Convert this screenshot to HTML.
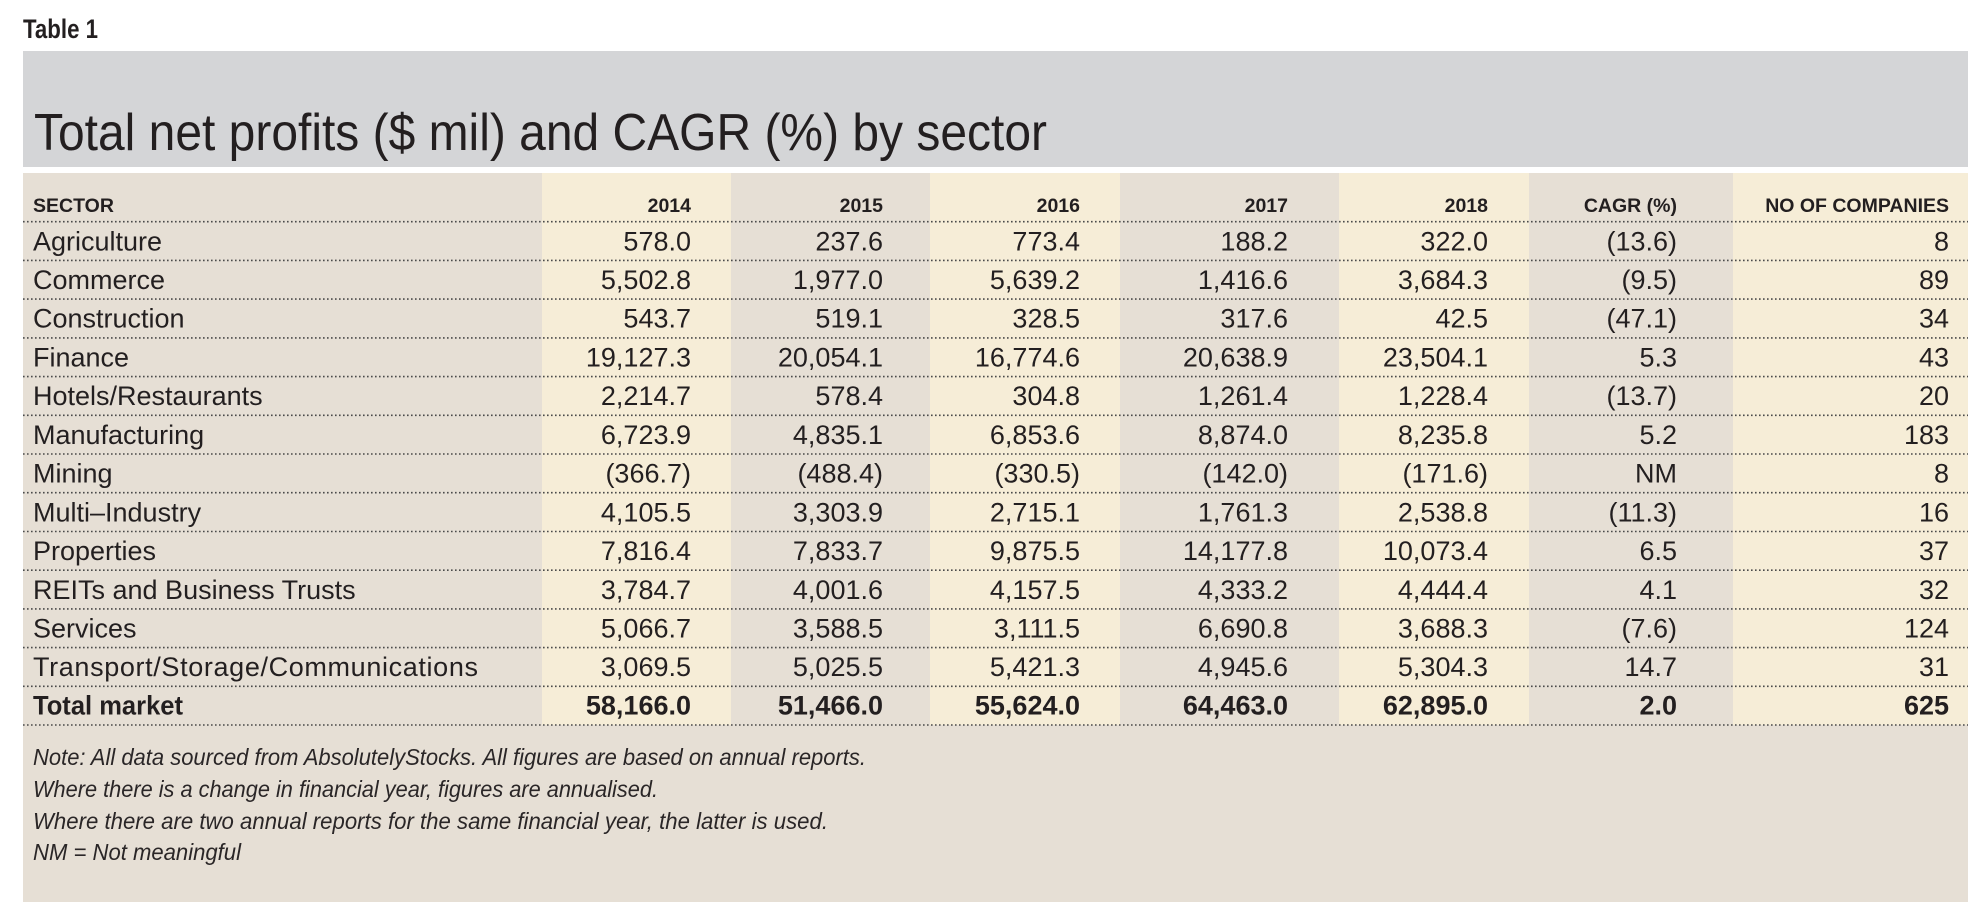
<!DOCTYPE html>
<html>
<head>
<meta charset="utf-8">
<style>
html,body{margin:0;padding:0;background:#fff;}
svg{display:block;}
text{font-family:"Liberation Sans",sans-serif;fill:#231f20;}
.h{font-weight:bold;font-size:19.5px;}
.r{font-size:27px;}
.n{font-size:27px;text-anchor:end;}
.b{font-weight:bold;}
.nt{font-size:23px;font-style:italic;fill:#2a2627;}
.e{text-anchor:end;}
</style>
</head>
<body>
<svg width="1986" height="922" viewBox="0 0 1986 922" xmlns="http://www.w3.org/2000/svg">
<rect x="0" y="0" width="1986" height="922" fill="#ffffff"/>
<text x="23" y="38" font-size="27" font-weight="bold" textLength="75" lengthAdjust="spacingAndGlyphs">Table 1</text>
<rect x="23" y="51" width="1945" height="116" fill="#d4d5d7"/>
<text x="34" y="150" font-size="52" textLength="1013" lengthAdjust="spacingAndGlyphs" fill="#231f20">Total net profits ($ mil) and CAGR (%) by sector</text>

<rect x="23" y="173" width="1945" height="729" fill="#e6dfd5"/>
<rect x="542" y="173" width="189" height="552" fill="#f6edd7"/>
<rect x="930" y="173" width="190" height="552" fill="#f6edd7"/>
<rect x="1339" y="173" width="190" height="552" fill="#f6edd7"/>
<rect x="1733" y="173" width="235" height="552" fill="#f6edd7"/>

<g stroke="#4a4a4a" stroke-width="1.6" stroke-dasharray="1.6 2.4">
<line x1="23" x2="1968" y1="221.7" y2="221.7"/>
<line x1="23" x2="1968" y1="260.4" y2="260.4"/>
<line x1="23" x2="1968" y1="299.1" y2="299.1"/>
<line x1="23" x2="1968" y1="337.9" y2="337.9"/>
<line x1="23" x2="1968" y1="376.6" y2="376.6"/>
<line x1="23" x2="1968" y1="415.3" y2="415.3"/>
<line x1="23" x2="1968" y1="454.0" y2="454.0"/>
<line x1="23" x2="1968" y1="492.7" y2="492.7"/>
<line x1="23" x2="1968" y1="531.5" y2="531.5"/>
<line x1="23" x2="1968" y1="570.2" y2="570.2"/>
<line x1="23" x2="1968" y1="608.9" y2="608.9"/>
<line x1="23" x2="1968" y1="647.6" y2="647.6"/>
<line x1="23" x2="1968" y1="686.3" y2="686.3"/>
<line x1="23" x2="1968" y1="725.0" y2="725.0"/>
</g>

<!-- header -->
<text class="h" x="33" y="212">SECTOR</text>
<text class="h e" x="691" y="212">2014</text>
<text class="h e" x="883" y="212">2015</text>
<text class="h e" x="1080" y="212">2016</text>
<text class="h e" x="1288" y="212">2017</text>
<text class="h e" x="1488" y="212">2018</text>
<text class="h e" x="1677" y="212">CAGR (%)</text>
<text class="h e" x="1949" y="212">NO OF COMPANIES</text>

<!-- rows -->
<g>
<text class="r" x="33" y="250.3">Agriculture</text>
<text class="n" x="691" y="250.3">578.0</text><text class="n" x="883" y="250.3">237.6</text><text class="n" x="1080" y="250.3">773.4</text><text class="n" x="1288" y="250.3">188.2</text><text class="n" x="1488" y="250.3">322.0</text><text class="n" x="1677" y="250.3">(13.6)</text><text class="n" x="1949" y="250.3">8</text>

<text class="r" x="33" y="289.0">Commerce</text>
<text class="n" x="691" y="289.0">5,502.8</text><text class="n" x="883" y="289.0">1,977.0</text><text class="n" x="1080" y="289.0">5,639.2</text><text class="n" x="1288" y="289.0">1,416.6</text><text class="n" x="1488" y="289.0">3,684.3</text><text class="n" x="1677" y="289.0">(9.5)</text><text class="n" x="1949" y="289.0">89</text>

<text class="r" x="33" y="327.7">Construction</text>
<text class="n" x="691" y="327.7">543.7</text><text class="n" x="883" y="327.7">519.1</text><text class="n" x="1080" y="327.7">328.5</text><text class="n" x="1288" y="327.7">317.6</text><text class="n" x="1488" y="327.7">42.5</text><text class="n" x="1677" y="327.7">(47.1)</text><text class="n" x="1949" y="327.7">34</text>

<text class="r" x="33" y="366.5">Finance</text>
<text class="n" x="691" y="366.5">19,127.3</text><text class="n" x="883" y="366.5">20,054.1</text><text class="n" x="1080" y="366.5">16,774.6</text><text class="n" x="1288" y="366.5">20,638.9</text><text class="n" x="1488" y="366.5">23,504.1</text><text class="n" x="1677" y="366.5">5.3</text><text class="n" x="1949" y="366.5">43</text>

<text class="r" x="33" y="405.2">Hotels/Restaurants</text>
<text class="n" x="691" y="405.2">2,214.7</text><text class="n" x="883" y="405.2">578.4</text><text class="n" x="1080" y="405.2">304.8</text><text class="n" x="1288" y="405.2">1,261.4</text><text class="n" x="1488" y="405.2">1,228.4</text><text class="n" x="1677" y="405.2">(13.7)</text><text class="n" x="1949" y="405.2">20</text>

<text class="r" x="33" y="443.9">Manufacturing</text>
<text class="n" x="691" y="443.9">6,723.9</text><text class="n" x="883" y="443.9">4,835.1</text><text class="n" x="1080" y="443.9">6,853.6</text><text class="n" x="1288" y="443.9">8,874.0</text><text class="n" x="1488" y="443.9">8,235.8</text><text class="n" x="1677" y="443.9">5.2</text><text class="n" x="1949" y="443.9">183</text>

<text class="r" x="33" y="482.6">Mining</text>
<text class="n" x="691" y="482.6">(366.7)</text><text class="n" x="883" y="482.6">(488.4)</text><text class="n" x="1080" y="482.6">(330.5)</text><text class="n" x="1288" y="482.6">(142.0)</text><text class="n" x="1488" y="482.6">(171.6)</text><text class="n" x="1677" y="482.6">NM</text><text class="n" x="1949" y="482.6">8</text>

<text class="r" x="33" y="521.3">Multi–Industry</text>
<text class="n" x="691" y="521.3">4,105.5</text><text class="n" x="883" y="521.3">3,303.9</text><text class="n" x="1080" y="521.3">2,715.1</text><text class="n" x="1288" y="521.3">1,761.3</text><text class="n" x="1488" y="521.3">2,538.8</text><text class="n" x="1677" y="521.3">(11.3)</text><text class="n" x="1949" y="521.3">16</text>

<text class="r" x="33" y="560.1">Properties</text>
<text class="n" x="691" y="560.1">7,816.4</text><text class="n" x="883" y="560.1">7,833.7</text><text class="n" x="1080" y="560.1">9,875.5</text><text class="n" x="1288" y="560.1">14,177.8</text><text class="n" x="1488" y="560.1">10,073.4</text><text class="n" x="1677" y="560.1">6.5</text><text class="n" x="1949" y="560.1">37</text>

<text class="r" x="33" y="598.8">REITs and Business Trusts</text>
<text class="n" x="691" y="598.8">3,784.7</text><text class="n" x="883" y="598.8">4,001.6</text><text class="n" x="1080" y="598.8">4,157.5</text><text class="n" x="1288" y="598.8">4,333.2</text><text class="n" x="1488" y="598.8">4,444.4</text><text class="n" x="1677" y="598.8">4.1</text><text class="n" x="1949" y="598.8">32</text>

<text class="r" x="33" y="637.5">Services</text>
<text class="n" x="691" y="637.5">5,066.7</text><text class="n" x="883" y="637.5">3,588.5</text><text class="n" x="1080" y="637.5">3,111.5</text><text class="n" x="1288" y="637.5">6,690.8</text><text class="n" x="1488" y="637.5">3,688.3</text><text class="n" x="1677" y="637.5">(7.6)</text><text class="n" x="1949" y="637.5">124</text>

<text class="r" x="33" y="676.2" textLength="445" lengthAdjust="spacing">Transport/Storage/Communications</text>
<text class="n" x="691" y="676.2">3,069.5</text><text class="n" x="883" y="676.2">5,025.5</text><text class="n" x="1080" y="676.2">5,421.3</text><text class="n" x="1288" y="676.2">4,945.6</text><text class="n" x="1488" y="676.2">5,304.3</text><text class="n" x="1677" y="676.2">14.7</text><text class="n" x="1949" y="676.2">31</text>

<text class="r b" x="33" y="714.6" textLength="150" lengthAdjust="spacingAndGlyphs">Total market</text>
<text class="n b" x="691" y="714.6">58,166.0</text><text class="n b" x="883" y="714.6">51,466.0</text><text class="n b" x="1080" y="714.6">55,624.0</text><text class="n b" x="1288" y="714.6">64,463.0</text><text class="n b" x="1488" y="714.6">62,895.0</text><text class="n b" x="1677" y="714.6">2.0</text><text class="n b" x="1949" y="714.6">625</text>
</g>

<!-- notes -->
<text class="nt" x="33" y="765" textLength="833" lengthAdjust="spacingAndGlyphs">Note: All data sourced from AbsolutelyStocks. All figures are based on annual reports.</text>
<text class="nt" x="33" y="797" textLength="625" lengthAdjust="spacingAndGlyphs">Where there is a change in financial year, figures are annualised.</text>
<text class="nt" x="33" y="829" textLength="795" lengthAdjust="spacingAndGlyphs">Where there are two annual reports for the same financial year, the latter is used.</text>
<text class="nt" x="33" y="860" textLength="208" lengthAdjust="spacingAndGlyphs">NM = Not meaningful</text>
</svg>
</body>
</html>
